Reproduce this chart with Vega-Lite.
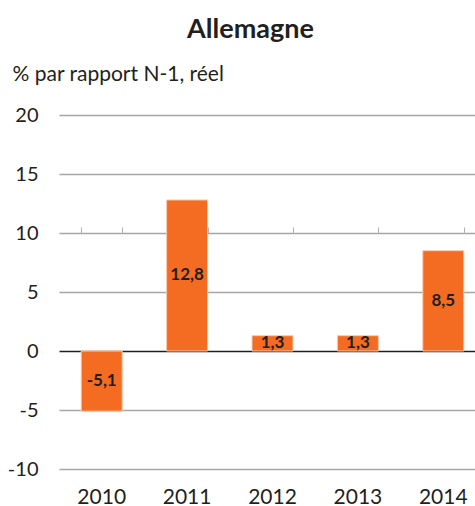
{
  "$schema": "https://vega.github.io/schema/vega-lite/v6.json",
  "autosize": {"type": "none"},
  "padding": {"left": 59, "top": 115, "right": 0, "bottom": 37},
  "width": 427,
  "height": 354,
  "title": {"text": "Allemagne", "font": "Lato", "fontSize": 27, "fontWeight": "bold", "color": "#231f20", "anchor": "middle", "frame": "group", "dx": -22, "baseline": "alphabetic", "offset": -2},
  "data": {"values": [
    {"year": "2010", "value": -5.1},
    {"year": "2011", "value": 12.8},
    {"year": "2012", "value": 1.3},
    {"year": "2013", "value": 1.3},
    {"year": "2014", "value": 8.5}
  ]},
  "resolve": {"scale": {"y": "independent"}, "axis": {"x": "independent"}},
  "layer": [
    {
      "mark": {"type": "bar", "color": "#F36C21", "stroke": "#fbc9ad", "strokeWidth": 1},
      "encoding": {
        "x": {"field": "year", "type": "nominal", "sort": null,
              "scale": {"paddingInner": 0.52, "paddingOuter": 0.26},
              "axis": {"title": null, "labelAngle": 0, "ticks": false, "domain": false, "grid": false,
                       "labelFont": "Lato", "labelFontSize": 21, "labelColor": "#231f20",
                       "labelBaseline": "alphabetic", "labelPadding": 34}},
        "y": {"field": "value", "type": "quantitative",
              "scale": {"domain": [-10, 20], "nice": false, "zero": false},
              "axis": {"values": [-10, -5, 0, 5, 10, 15, 20], "ticks": false, "domain": false,
                       "grid": true, "gridColor": {"condition": {"test": "datum.value === 0", "value": "#231f20"}, "value": "#a6a6a6"},
                       "gridWidth": 1.5,
                       "labelFont": "Lato", "labelFontSize": 20, "labelColor": "#231f20", "labelPadding": 21,
                       "title": "% par rapport N-1, réel", "titleAngle": 0, "titleAlign": "left", "titleBaseline": "alphabetic",
                       "titleX": -47, "titleY": -35, "titleFont": "Lato", "titleFontSize": 21, "titleFontWeight": "normal", "titleColor": "#231f20"}}
      }
    },
    {
      "mark": {"type": "text", "font": "Lato", "fontSize": 17, "fontWeight": "bold", "color": "#231f20", "baseline": "middle", "align": "center"},
      "encoding": {
        "x": {"field": "year", "type": "nominal", "sort": null,
              "axis": {"title": null, "labels": false, "domain": false, "grid": false, "ticks": true,
                       "tickBand": "extent", "tickSize": 6, "tickColor": "#b0b0b0", "tickWidth": 1, "offset": -118}},
        "y": {"field": "value", "type": "quantitative", "scale": {"domain": [-20, 40], "nice": false, "zero": false}, "axis": null},
        "text": {"field": "value", "type": "quantitative", "format": ".1f"}
      }
    }
  ],
  "config": {
    "view": {"stroke": null},
    "locale": {"number": {"decimal": ",", "thousands": " ", "grouping": [3], "currency": ["", " €"], "minus": "-"}}
  }
}
